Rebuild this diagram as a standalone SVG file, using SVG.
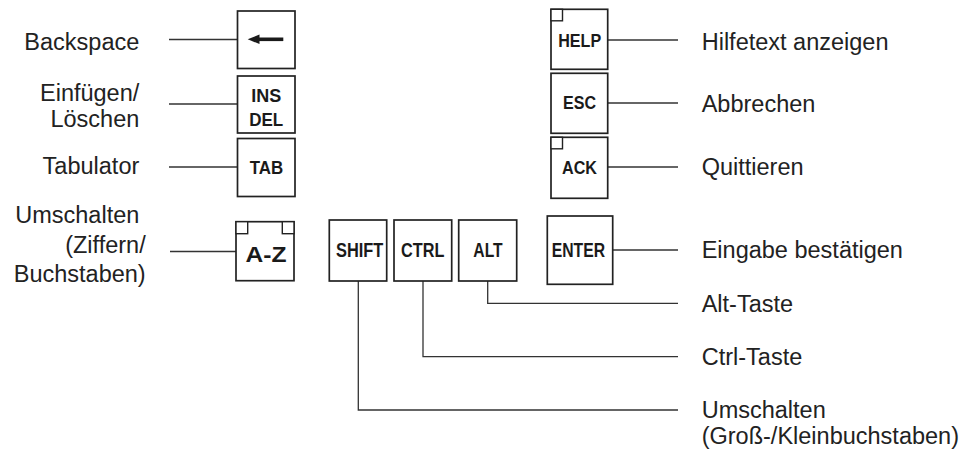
<svg xmlns="http://www.w3.org/2000/svg" width="969" height="455" viewBox="0 0 969 455">
<style>
.key{fill:#fff;stroke:#222;stroke-width:1.7}
.corner{fill:#fff;stroke:#222;stroke-width:1.4}
.kt{font-family:"Liberation Sans",Arial,sans-serif;font-weight:bold;font-size:17.5px;fill:#1a1a1a;text-anchor:middle}
.kb{font-size:19.5px}
.kaz{font-size:21.5px}
.lbl{font-family:"Liberation Sans",Arial,sans-serif;font-size:23.5px;fill:#222}
.r{text-anchor:end}
.conn{fill:none;stroke:#333;stroke-width:1.3}
</style>
<rect width="969" height="455" fill="#fff"/>
<g id="connectors">
<line class="conn" x1="169" y1="39.5" x2="237.5" y2="39.5"/>
<line class="conn" x1="169" y1="104" x2="237.5" y2="104"/>
<line class="conn" x1="169" y1="167" x2="237.5" y2="167"/>
<line class="conn" x1="170" y1="251.5" x2="236" y2="251.5"/>
<line class="conn" x1="607.7" y1="40" x2="678" y2="40"/>
<line class="conn" x1="607.7" y1="103" x2="678" y2="103"/>
<line class="conn" x1="607.7" y1="167" x2="678" y2="167"/>
<line class="conn" x1="612.7" y1="250" x2="678" y2="250"/>
<polyline class="conn" points="487.7,281 487.7,303.3 678,303.3"/>
<polyline class="conn" points="423,281 423,356.7 678,356.7"/>
<polyline class="conn" points="358.3,281 358.3,410 678,410"/>
</g>
<g id="key-backspace">
<rect class="key" x="237.5" y="11" width="57.5" height="57.5"/>
<line x1="256" y1="39.3" x2="283.3" y2="39.3" stroke="#1a1a1a" stroke-width="3.6"/>
<polygon points="247.7,39.3 259.5,34.5 259.5,44.1" fill="#1a1a1a"/>
</g>
<g id="key-insdel">
<rect class="key" x="237.5" y="76" width="57.5" height="57"/>
<text class="kt" x="266.2" y="101.7" textLength="30" lengthAdjust="spacingAndGlyphs">INS</text>
<text class="kt" x="266.2" y="126" textLength="34" lengthAdjust="spacingAndGlyphs">DEL</text>
</g>
<g id="key-tab">
<rect class="key" x="237.5" y="138.5" width="57.5" height="58"/>
<text class="kt" x="266.5" y="174" textLength="33.5" lengthAdjust="spacingAndGlyphs">TAB</text>
</g>
<g id="key-az">
<rect class="key" x="236" y="221.7" width="58" height="59"/>
<rect class="corner" x="236" y="221.7" width="11.7" height="12"/>
<rect class="corner" x="282.3" y="221.7" width="11.7" height="12"/>
<text class="kt kaz" x="266" y="261.7" textLength="41" lengthAdjust="spacingAndGlyphs">A-Z</text>
</g>
<g id="key-shift">
<rect class="key" x="329.3" y="220" width="57.4" height="61"/>
<text class="kt kb" x="359.7" y="257.3" textLength="47.3" lengthAdjust="spacingAndGlyphs">SHIFT</text>
</g>
<g id="key-ctrl">
<rect class="key" x="394" y="220" width="57.7" height="61"/>
<text class="kt kb" x="422.7" y="257.3" textLength="43.3" lengthAdjust="spacingAndGlyphs">CTRL</text>
</g>
<g id="key-alt">
<rect class="key" x="458.7" y="220" width="58" height="61"/>
<text class="kt kb" x="488" y="257.3" textLength="29.3" lengthAdjust="spacingAndGlyphs">ALT</text>
</g>
<g id="key-enter">
<rect class="key" x="547.3" y="216" width="65.4" height="68.3"/>
<text class="kt kb" x="578.4" y="257.3" textLength="53.3" lengthAdjust="spacingAndGlyphs">ENTER</text>
</g>
<g id="key-help">
<rect class="key" x="551" y="9.3" width="56.7" height="60"/>
<rect class="corner" x="551" y="9.3" width="11.5" height="11.5"/>
<text class="kt" x="579.7" y="46.6" textLength="43" lengthAdjust="spacingAndGlyphs">HELP</text>
</g>
<g id="key-esc">
<rect class="key" x="551" y="73.3" width="56.7" height="60"/>
<text class="kt" x="579.5" y="109" textLength="33" lengthAdjust="spacingAndGlyphs">ESC</text>
</g>
<g id="key-ack">
<rect class="key" x="551" y="137.3" width="56.7" height="61"/>
<rect class="corner" x="551" y="137.3" width="11.5" height="11.5"/>
<text class="kt" x="579.5" y="173.5" textLength="35" lengthAdjust="spacingAndGlyphs">ACK</text>
</g>
<g id="labels-left">
<text class="lbl r" x="139.3" y="49.5">Backspace</text>
<text class="lbl r" x="139.3" y="100.5">Einfügen/</text>
<text class="lbl r" x="139.3" y="126.5">Löschen</text>
<text class="lbl r" x="139.3" y="174">Tabulator</text>
<text class="lbl r" x="139.3" y="223.3">Umschalten</text>
<text class="lbl r" x="145.7" y="252.5">(Ziffern/</text>
<text class="lbl r" x="145.7" y="281.5">Buchstaben)</text>
</g>
<g id="labels-right">
<text class="lbl" x="701.7" y="49.5">Hilfetext anzeigen</text>
<text class="lbl" x="701.7" y="111.5">Abbrechen</text>
<text class="lbl" x="701.7" y="175">Quittieren</text>
<text class="lbl" x="701.7" y="258">Eingabe bestätigen</text>
<text class="lbl" x="701.7" y="311.5">Alt-Taste</text>
<text class="lbl" x="701.7" y="365">Ctrl-Taste</text>
<text class="lbl" x="701.7" y="418">Umschalten</text>
<text class="lbl" x="701.7" y="444">(Groß-/Kleinbuchstaben)</text>
</g>
</svg>
